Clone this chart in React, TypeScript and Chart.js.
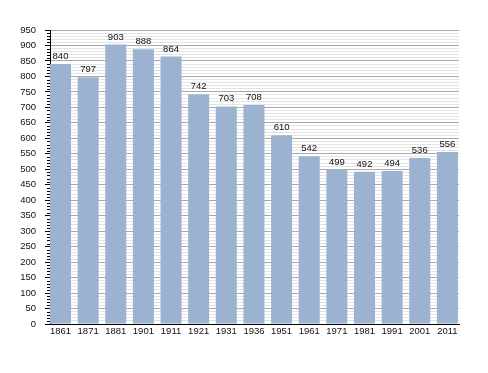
import React, { useEffect, useRef } from "react";
import { Chart, registerables } from "chart.js";

Chart.register(...registerables);

const years = ["1861", "1871", "1881", "1901", "1911", "1921", "1931", "1936", "1951", "1961", "1971", "1981", "1991", "2001", "2011"];
const population = [840, 797, 903, 888, 864, 742, 703, 708, 610, 542, 499, 492, 494, 536, 556];
const yMax = 950;
const minorStep = 10;
const majorStep = 50;

const FONT = "'Liberation Sans', Arial, sans-serif";

const valueLabels = {
  id: "valueLabels",
  afterDatasetsDraw(chart: any) {
    const ctx = chart.ctx;
    const meta = chart.getDatasetMeta(0);
    ctx.save();
    ctx.font = `9.5px ${FONT}`;
    ctx.fillStyle = "#111";
    ctx.textAlign = "center";
    ctx.textBaseline = "alphabetic";
    meta.data.forEach((bar: any, i: number) => {
      ctx.fillText(String(population[i]), bar.x, bar.y - 5);
    });
    ctx.restore();
  },
};

const minorTicks = {
  id: "minorTicks",
  afterDraw(chart: any) {
    const ctx = chart.ctx;
    const y = chart.scales.y;
    const left = chart.chartArea.left;
    ctx.save();
    ctx.strokeStyle = "#000";
    ctx.lineWidth = 1;
    ctx.beginPath();
    for (let v = 0; v <= yMax; v += minorStep) {
      if (v % majorStep === 0) continue;
      const py = Math.round(y.getPixelForValue(v)) + 0.5;
      ctx.moveTo(left - 3, py);
      ctx.lineTo(left, py);
    }
    ctx.stroke();
    ctx.restore();
  },
};

export default function App() {
  const ref = useRef<HTMLCanvasElement | null>(null);

  useEffect(() => {
    document.body.style.margin = "0";
    const canvas = ref.current;
    if (!canvas) return;
    const chart = new Chart(canvas, {
      type: "bar",
      data: {
        datasets: [
          {
            data: population.map((v, i) => ({ x: i, y: v })),
            backgroundColor: "#9bb3d0",
            borderWidth: 0,
            categoryPercentage: 1,
            barPercentage: 0.76,
          },
        ],
      },
      options: {
        responsive: false,
        animation: false,
        events: [],
        layout: { padding: { top: 30, right: 29, bottom: 28, left: 0 } },
        plugins: { legend: { display: false }, tooltip: { enabled: false } },
        scales: {
          x: {
            type: "linear",
            min: -0.38,
            max: 14.42,
            offset: false,
            afterBuildTicks: (s: any) => {
              s.ticks = years.map((_, i) => ({ value: i }));
            },
            afterFit: (s: any) => {
              s.height = 21;
            },
            grid: { display: false, drawTicks: false },
            border: { display: true, color: "#000", width: 1 },
            ticks: {
              autoSkip: false,
              maxRotation: 0,
              padding: 2,
              color: "#111",
              font: { family: FONT, size: 9.5 },
              callback: (v: any) => years[v as number] ?? "",
            },
          },
          y: {
            min: 0,
            max: yMax,
            afterBuildTicks: (s: any) => {
              const t = [];
              for (let v = 0; v <= yMax; v += minorStep) t.push({ value: v });
              s.ticks = t;
            },
            afterFit: (s: any) => {
              s.width = 50;
            },
            grid: {
              color: (c: any) => (c.tick && c.tick.value % majorStep === 0 ? "#a9a9a9" : "#e3e3e3"),
              tickColor: (c: any) => (c.tick && c.tick.value % majorStep === 0 ? "#000" : "rgba(0,0,0,0)"),
              tickLength: 5,
              lineWidth: 1,
            },
            border: { display: true, color: "#000", width: 1 },
            ticks: {
              autoSkip: false,
              padding: 9,
              color: "#111",
              font: { family: FONT, size: 9.5 },
              callback: (v: any) => ((v as number) % majorStep === 0 ? String(v) : ""),
            },
          },
        },
      },
      plugins: [valueLabels, minorTicks],
    });
    return () => chart.destroy();
  }, []);

  return <canvas ref={ref} width={488} height={373} style={{ display: "block" }} />;
}
